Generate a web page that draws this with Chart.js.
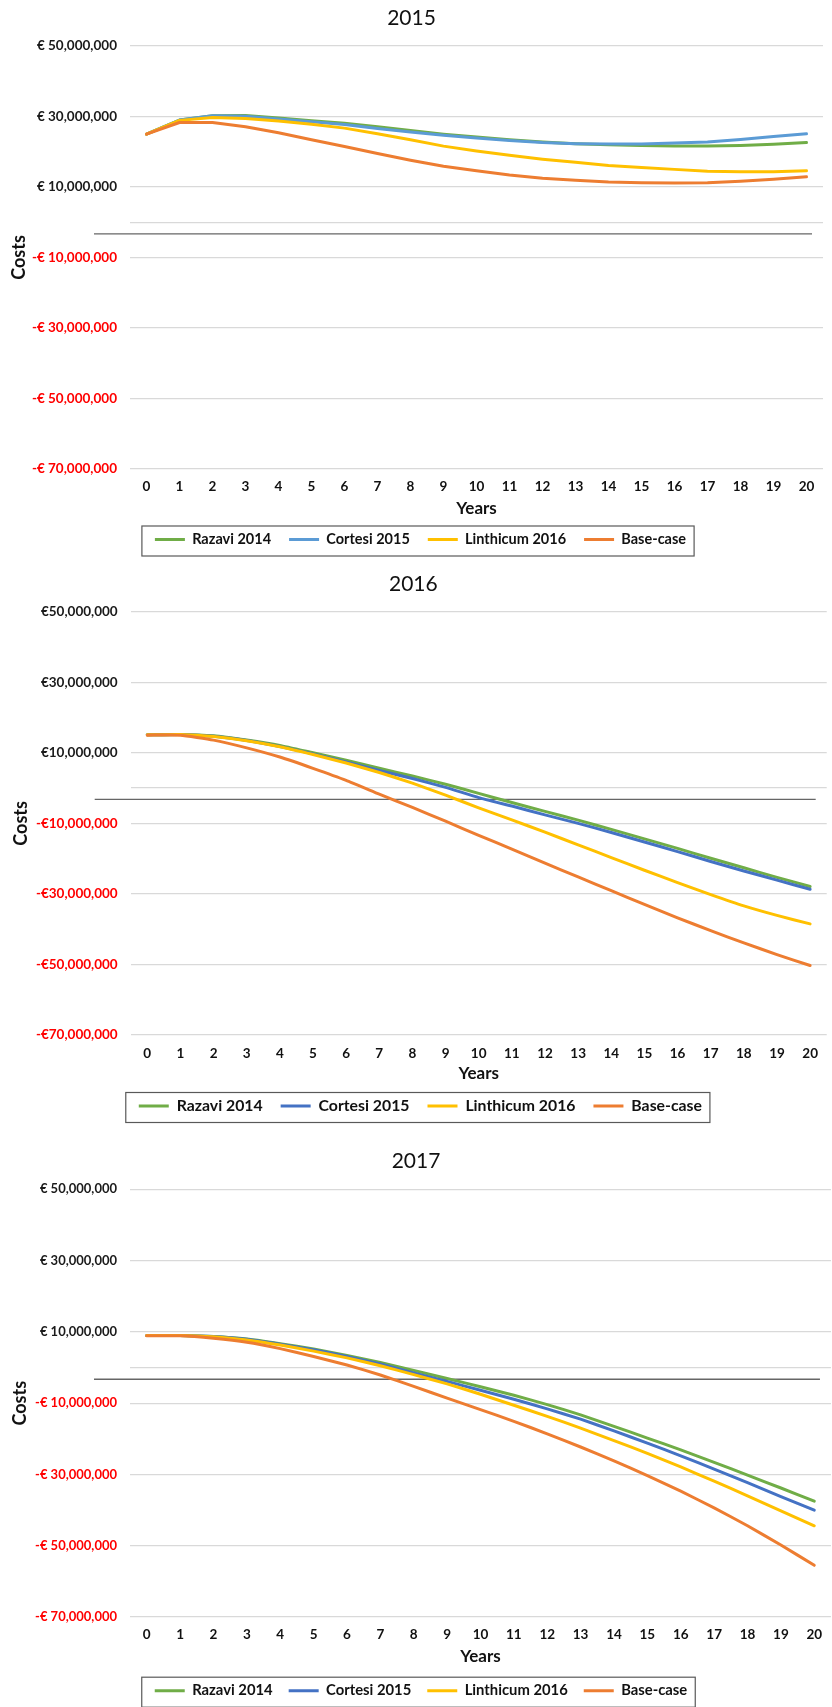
<!DOCTYPE html>
<html><head><meta charset="utf-8">
<script src="https://cdn.jsdelivr.net/npm/chart.js@4/dist/chart.umd.min.js"></script>
<style>
html,body{margin:0;padding:0;background:#fff;overflow:hidden;width:832px;height:1707px;}
.wrap{position:absolute;left:0;width:832px;}
</style></head><body>
<div class="wrap" style="top:0;height:565px"><canvas id="c1"></canvas></div>
<div class="wrap" style="top:565px;height:565px"><canvas id="c2"></canvas></div>
<div class="wrap" style="top:1130px;height:578px"><canvas id="c3"></canvas></div>
<script>
// ---------- data (values in millions of euros) ----------
const years = ['0','1','2','3','4','5','6','7','8','9','10','11','12','13','14','15','16','17','18','19','20'];
const seriesNames = ['Razavi 2014','Cortesi 2015','Linthicum 2016','Base-case'];
const yTickValues = [-70,-50,-30,-10,0,10,30,50];

const razavi2015    = [25.0,29.0,30.2,30.3,29.6,28.8,28.1,27.1,26.0,25.0,24.2,23.4,22.8,22.3,22.0,21.8,21.6,21.6,21.8,22.1,22.6];
const cortesi2015   = [25.0,29.0,30.2,30.1,29.3,28.5,27.7,26.6,25.6,24.7,23.9,23.2,22.6,22.3,22.2,22.2,22.5,22.8,23.5,24.3,25.1];
const linthicum2015 = [25.0,28.9,29.7,29.4,28.7,27.8,26.7,25.1,23.4,21.6,20.2,19.0,17.9,17.0,16.1,15.5,15.0,14.5,14.3,14.3,14.6];
const base2015      = [25.0,28.3,28.3,27.1,25.4,23.4,21.5,19.5,17.6,15.9,14.6,13.4,12.5,11.9,11.4,11.2,11.1,11.2,11.6,12.2,12.9];

const razavi2016    = [15.1,15.2,14.8,13.6,12.1,10.0,7.9,5.6,3.4,1.1,-1.5,-4.1,-6.6,-9.1,-11.7,-14.4,-17.1,-19.9,-22.6,-25.3,-27.9];
const cortesi2016   = [15.1,15.2,14.7,13.5,11.8,9.7,7.4,5.0,2.7,0.2,-2.7,-5.1,-7.6,-10.0,-12.6,-15.3,-18.0,-20.8,-23.5,-26.1,-28.7];
const linthicum2016 = [15.1,15.2,14.6,13.4,11.7,9.5,7.1,4.4,1.4,-2.0,-5.6,-9.0,-12.5,-16.1,-19.7,-23.3,-26.8,-30.2,-33.4,-36.1,-38.5];
const base2016      = [15.0,15.0,13.6,11.4,8.8,5.6,2.2,-1.7,-5.5,-9.4,-13.4,-17.3,-21.3,-25.2,-29.1,-33.0,-36.8,-40.4,-43.9,-47.2,-50.3];

const razavi2017    = [9.0,9.0,8.7,8.0,6.7,5.2,3.4,1.4,-0.8,-3.1,-5.4,-7.8,-10.4,-13.3,-16.5,-19.8,-23.1,-26.6,-30.2,-33.8,-37.5];
const cortesi2017   = [9.0,9.0,8.7,7.9,6.5,5.0,3.1,1.0,-1.5,-3.9,-6.4,-8.9,-11.6,-14.5,-17.8,-21.2,-24.8,-28.5,-32.3,-36.2,-40.0];
const linthicum2017 = [9.0,9.0,8.6,7.7,6.3,4.6,2.7,0.5,-2.0,-4.6,-7.5,-10.6,-13.7,-17.0,-20.5,-24.1,-27.9,-31.9,-36.0,-40.2,-44.4];
const base2017      = [8.9,8.9,8.2,7.1,5.3,3.1,0.7,-2.1,-5.3,-8.6,-11.8,-15.1,-18.6,-22.3,-26.2,-30.3,-34.7,-39.4,-44.4,-49.8,-55.5];

// ---------- styling / layout ----------
const FONT = "Lato, 'Open Sans', 'DejaVu Sans', sans-serif";
Chart.defaults.font.family = FONT;
const colors2015 = ['#70AD47','#5B9BD5','#FFC000','#ED7D31'];
const colors2016 = ['#70AD47','#4472C4','#FFC000','#ED7D31'];

function fmt(v, space){
  if (v === 0) return '';
  const s = Math.round(Math.abs(v) * 1e6).toLocaleString('en-US');
  return (v < 0 ? '-€' : '€') + (space ? ' ' : '') + s;
}

const axisLine = {
  id: 'axisLine',
  beforeDatasetsDraw(chart, args, opts){
    const y = chart.scales.y.getPixelForValue(opts.value);
    const a = chart.chartArea, ctx = chart.ctx;
    ctx.save();
    ctx.strokeStyle = '#666666';
    ctx.lineWidth = 1.3;
    ctx.beginPath();
    ctx.moveTo(a.left - 36, y);
    ctx.lineTo(a.right - 11, y);
    ctx.stroke();
    ctx.restore();
  }
};
const legendBorder = {
  id: 'legendBorder',
  afterLayout(chart, args, opts){
    if (chart.legend && opts.shift) { chart.legend.left += opts.shift; chart.legend.right += opts.shift; }
  },
  afterDraw(chart){
    const hb = chart.legend && chart.legend.legendHitBoxes;
    if (!hb || !hb.length) return;
    const last = hb[hb.length - 1];
    const left = hb[0].left - 13, right = last.left + last.width + 8;
    const cy = hb[0].top + hb[0].height / 2;
    const ctx = chart.ctx;
    ctx.save();
    ctx.strokeStyle = '#595959';
    ctx.lineWidth = 1.2;
    ctx.strokeRect(left, cy - 13.5, right - left, 30);
    ctx.restore();
  }
};

function makeChart(id, p, series, colors){
  const titleLH = p.titleSize * 1.2;
  const legendTop = p.L - p.legendPad - p.legendSize / 2;
  const legendH = p.legendSize + p.legendPad + 10;
  return new Chart(document.getElementById(id), {
    type: 'line',
    data: {
      labels: years,
      datasets: seriesNames.map((n, i) => ({
        label: n, data: series[i], borderColor: colors[i], backgroundColor: colors[i],
        borderWidth: 3, pointRadius: 0, pointHoverRadius: 0, tension: p.tension, order: 4 - i,
        borderJoinStyle: 'round', borderCapStyle: 'round', fill: false
      }))
    },
    options: {
      responsive: true, maintainAspectRatio: false, animation: false,
      layout: { padding: { top: 0, left: 0, right: p.rightPad, bottom: p.H - legendTop - legendH } },
      plugins: {
        title: { display: true, text: p.title, color: '#111',
          font: { family: FONT, size: p.titleSize, weight: 'normal' },
          padding: { top: p.titleC - titleLH / 2, bottom: p.A - p.titleC - titleLH / 2 } },
        legend: { position: 'bottom',
          labels: { boxWidth: 30, boxHeight: 3, padding: p.legendPad, color: '#111',
            font: { family: FONT, size: p.legendSize, weight: 'bold' },
            sort: (a, b) => a.datasetIndex - b.datasetIndex,
            generateLabels: ch => Chart.defaults.plugins.legend.labels.generateLabels(ch).map(l => Object.assign(l, { lineWidth: 0 })) } },
        tooltip: { enabled: false },
        axisLine: { value: p.cross },
        legendBorder: { shift: p.legendShift }
      },
      scales: {
        x: { offset: true,
          grid: { display: false, drawTicks: false }, border: { display: false },
          ticks: { padding: p.T - p.B - 8.1, color: '#111', autoSkip: false, maxRotation: 0,
            font: { family: FONT, size: 13.5, weight: 'bold' } },
          title: { display: true, text: 'Years', color: '#111',
            font: { family: FONT, size: 17, weight: 'bold' },
            padding: { top: 0, bottom: legendTop - p.Y - 10.2 } },
          afterFit: s => { s.height = legendTop - p.B; } },
        y: { min: -70, max: 50,
          afterBuildTicks: s => { s.ticks = yTickValues.map(v => ({ value: v })); },
          grid: { color: '#D9D9D9', lineWidth: 1.3, drawTicks: false }, border: { display: false },
          ticks: { padding: 13, autoSkip: false,
            color: c => (c.tick && c.tick.value < 0) ? '#FF0000' : '#1a1a1a',
            font: { family: FONT, size: p.yTickSize, weight: 'bold' },
            callback: v => fmt(v, p.euroSpace) },
          title: { display: true, text: 'Costs', color: '#111',
            font: { family: FONT, size: 18, weight: 'bold' },
            padding: { top: p.costsX - 10.8, bottom: 0 } },
          afterFit: s => { s.width = p.left; } }
      }
    },
    plugins: [axisLine, legendBorder]
  });
}

const P1 = {title:'2015', H:565, titleSize:21, titleC:18.5, A:46, B:469, T:487, Y:509, L:539.5, left:130, rightPad:9, legendSize:14.5, legendPad:18, legendShift:9, yTickSize:13.5, euroSpace:true, cross:-3.3, costsX:19.5, tension:0};
const P2 = {title:'2016', H:565, titleSize:21, titleC:18.8, A:46.7, B:470, T:488.3, Y:509, L:541, left:130.7, rightPad:5.3, legendSize:15.8, legendPad:18, legendShift:7, yTickSize:13.5, euroSpace:false, cross:-3.2, costsX:21, tension:0.15};
const P3 = {title:'2017', H:578, titleSize:21, titleC:30.8, A:59.3, B:487, T:505, Y:526.7, L:560.7, left:130, rightPad:0, legendSize:14.8, legendPad:16, legendShift:5, yTickSize:13, euroSpace:true, cross:-3.3, costsX:20, tension:0.15};

makeChart('c1', P1, [razavi2015, cortesi2015, linthicum2015, base2015], colors2015);
makeChart('c2', P2, [razavi2016, cortesi2016, linthicum2016, base2016], colors2016);
makeChart('c3', P3, [razavi2017, cortesi2017, linthicum2017, base2017], colors2016);
</script>
</body></html>
